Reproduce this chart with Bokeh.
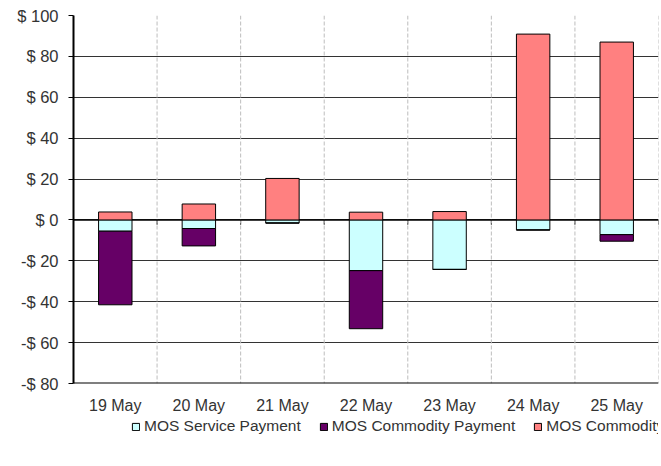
from bokeh.plotting import figure
from bokeh.layouts import column
from bokeh.models import FactorRange, Range1d, FixedTicker, Span, Legend, LegendItem, ColumnDataSource
from bokeh.embed import file_html
from bokeh.resources import INLINE

days = ["19 May", "20 May", "21 May", "22 May", "23 May", "24 May", "25 May"]
service_payment = [-5.5, -4.2, -1.5, -24.8, -24.2, -4.9, -7.2]
commodity_payment = [-36.0, -8.5, 0.0, -28.4, 0.0, 0.0, -3.2]
commodity_charge = [3.9, 7.8, 20.3, 3.8, 4.1, 90.9, 87.0]
series_names = ["MOS Service Payment", "MOS Commodity Payment", "MOS Commodity charge"]
series_colors = ["#CCFFFF", "#660066", "#FF8080"]
y_ticks = [-80, -60, -40, -20, 0, 20, 40, 60, 80, 100]
y_labels = ["-$ 80", "-$ 60", "-$ 40", "-$ 20", "$ 0", "$ 20", "$ 40", "$ 60", "$ 80", "$ 100"]

FONT = "Liberation Sans"
TXT = "#333333"

src = ColumnDataSource(dict(day=days, service=service_payment, payment=commodity_payment,
                            charge=commodity_charge))

p = figure(x_range=FactorRange(*days), y_range=Range1d(y_ticks[0], y_ticks[-1]),
           output_backend="svg", toolbar_location=None,
           frame_width=585, frame_height=368,
           min_border_left=73, min_border_right=3, min_border_top=15, min_border_bottom=30)
p.outline_line_color = None
p.background_fill_color = "white"
p.border_fill_color = "white"

# grid
p.xgrid.visible = False
p.ygrid.ticker = FixedTicker(ticks=y_ticks)
p.ygrid.grid_line_color = "#333333"
p.ygrid.grid_line_width = 1

for i in range(1, len(days) + 1):
    p.add_layout(Span(location=i, dimension="height", line_color="#BDBDBD",
                      line_dash="4 2", line_width=1, level="underlay"))
p.add_layout(Span(location=0, dimension="width", line_color="black", line_width=1.5, level="underlay"))
p.add_layout(Span(location=y_ticks[0], dimension="width", line_color="black", line_width=2, level="underlay"))

# category ticks on the zero line
bounds = list(range(1, len(days) + 1))
p.segment(x0=bounds, y0=[0] * len(bounds), x1=bounds, y1=[-2.3] * len(bounds),
          line_color="black", line_width=1, level="underlay")

# bars
rs = p.vbar_stack(["service", "payment"], x="day", width=0.4, source=src,
                  fill_color=series_colors[:2], line_color="black", line_width=1)
rc = p.vbar(x="day", top="charge", bottom=0, width=0.4, source=src,
            fill_color=series_colors[2], line_color="black", line_width=1)

# axes
ya = p.yaxis[0]
ya.ticker = FixedTicker(ticks=y_ticks)
ya.major_label_overrides = {t: l for t, l in zip(y_ticks, y_labels)}
ya.axis_line_color = "black"
ya.axis_line_width = 2
ya.major_tick_line_color = "black"
ya.major_tick_out = 5
ya.major_tick_in = 0
ya.minor_tick_line_color = None
ya.major_label_standoff = 10
ya.major_label_text_font = FONT
ya.major_label_text_font_size = "16.5px"
ya.major_label_text_color = TXT

xa = p.xaxis[0]
xa.axis_line_color = None
xa.major_tick_line_color = None
xa.minor_tick_line_color = None
xa.major_label_standoff = 7
xa.major_label_text_font = FONT
xa.major_label_text_font_size = "16px"
xa.major_label_text_color = TXT

# legend strip (separate small figure, bars kept out of its view)
lf = figure(x_range=FactorRange(*days), y_range=Range1d(1000, 1001),
            width=661, height=53, output_backend="svg", toolbar_location=None,
            x_axis_location=None, y_axis_location=None, min_border=0)
lf.outline_line_color = None
lf.xgrid.visible = False
lf.ygrid.visible = False
lrs = lf.vbar_stack(["service", "payment"], x="day", width=0.4, source=src,
                    fill_color=series_colors[:2], line_color="black", line_width=1)
lrc = lf.vbar(x="day", top="charge", bottom=0, width=0.4, source=src,
              fill_color=series_colors[2], line_color="black", line_width=1)

legend = Legend(items=[LegendItem(label=series_names[0], renderers=[lrs[0]]),
                       LegendItem(label=series_names[1], renderers=[lrs[1]]),
                       LegendItem(label=series_names[2], renderers=[lrc])],
                orientation="horizontal", location=(58, 33),
                label_text_font=FONT, label_text_font_size="15.5px", label_text_color=TXT,
                label_height=20, glyph_width=9, glyph_height=9, label_standoff=4, spacing=18,
                padding=0, margin=0, border_line_color=None, background_fill_alpha=0)
lf.add_layout(legend, "center")

layout = column(p, lf, spacing=0)
open("out.html", "w").write(file_html(layout, INLINE))
